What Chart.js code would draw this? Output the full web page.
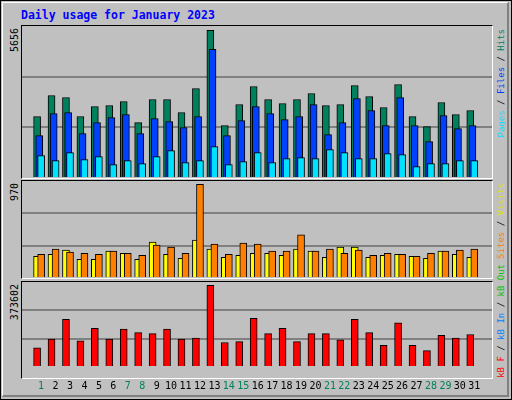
<!DOCTYPE html>
<html><head><meta charset="utf-8">
<script src="https://cdn.jsdelivr.net/npm/chart.js@4/dist/chart.umd.min.js"></script>
<style>
html,body{margin:0;padding:0;background:#fff;}
#outer{position:absolute;left:0;top:0;width:510px;height:398px;border:1px solid #000;background:#c0c0c0;overflow:hidden;}
#hl{position:absolute;left:1px;top:1px;width:504px;height:392px;border-top:1px solid #fff;border-left:1px solid #fff;border-right:2px solid #808080;border-bottom:2px solid #808080;}
.pan{position:absolute;border-top:1px solid #000;border-left:1px solid #000;border-right:1px solid #fff;border-bottom:1px solid #fff;}
canvas{position:absolute;}
.v{position:absolute;writing-mode:vertical-rl;transform:rotate(180deg);font-family:"DejaVu Sans Mono",monospace;font-size:9px;line-height:10px;white-space:nowrap;}
.vl{font-size:10px;}
#title{position:absolute;left:20px;top:7px;color:#0000ff;font:bold 11.5px "DejaVu Sans Mono",monospace;}
</style></head><body>
<div id="outer"><div id="hl"></div>
<div id="title">Daily usage for January 2023</div>
<div class="pan" style="left:20px;top:24px;width:470px;height:152px"></div>
<div class="pan" style="left:20px;top:179px;width:470px;height:97px"></div>
<div class="pan" style="left:20px;top:280px;width:470px;height:96px"></div>
<canvas id="c1" style="left:21px;top:25px;width:470px;height:152px"></canvas>
<canvas id="c2" style="left:21px;top:180px;width:470px;height:97px"></canvas>
<canvas id="c3" style="left:21px;top:281px;width:470px;height:115px"></canvas>
<div class="v vl" style="left:9px;top:27px">5656</div>
<div class="v vl" style="left:9px;top:182px">970</div>
<div class="v vl" style="left:9px;top:283px">373602</div>
<div class="v" style="left:495px;top:28px"><span style="color:#00e0ff">Pages</span> / <span style="color:#0040ff">Files</span> / <span style="color:#00805c">Hits</span></div>
<div class="v" style="left:495px;top:182px"><span style="color:#ff8000">Sites</span> / <span style="color:#e0e000">Visits</span></div>
<div class="v" style="left:495px;top:263px"><span style="color:#ff0000">kB F</span> / <span style="color:#0080ff">kB In</span> / <span style="color:#00c000">kB Out</span></div>
</div>
<script>
const days=[1,2,3,4,5,6,7,8,9,10,11,12,13,14,15,16,17,18,19,20,21,22,23,24,25,26,27,28,29,30,31];
const weekend=[1,7,8,14,15,21,22,28,29];
const hits=[2287,3070,2996,2287,2660,2697,2847,2063,2921,2921,2436,3331,5494,1952,2735,3406,2921,2772,2921,3145,2697,2735,3443,3033,2623,3480,2287,1914,2809,2362,2511];
const files=[1579,2399,2436,1653,2063,2250,2362,1653,2213,2101,1877,2287,4786,1579,2138,2660,2399,2175,2287,2735,1616,2063,2958,2511,1952,2996,1952,1355,2324,1840,1952];
const pages=[833,646,945,684,796,497,646,534,796,1019,572,646,1168,497,609,945,572,721,758,721,1057,945,721,721,907,870,423,534,534,646,646];
const visits=[217,237,278,186,186,268,247,186,359,237,197,380,288,207,227,247,247,227,288,268,207,308,308,207,227,237,217,197,268,237,207];
const sites=[237,288,258,247,237,268,247,227,329,308,247,936,339,237,349,339,268,268,431,268,288,247,278,227,247,237,217,247,268,278,288];
const kbytes=[83900,123200,209800,115400,170400,123200,166500,150800,146800,166500,123200,127200,359200,107500,111400,213700,146800,170400,111400,146800,146800,119300,209800,150800,95700,194000,95700,72100,139000,127200,142900];
const maxes=[5656,970,373602];

function ds(vals,off,color){return{data:vals.map((v,i)=>({x:days[i]+off,y:v})),backgroundColor:color,borderColor:'#000',borderWidth:1,barThickness:7,grouped:false};}
function mk(id,sets,max,showX){
  new Chart(document.getElementById(id),{type:'bar',data:{datasets:sets},
  options:{responsive:false,animation:false,devicePixelRatio:1,
   plugins:{legend:{display:false},tooltip:{enabled:false}},
   layout:{padding:0},
   scales:{
    x:{type:'linear',min:0.2,max:31.7,display:showX,grid:{display:false},border:{display:false},
       afterBuildTicks:s=>{s.ticks=days.map(d=>({value:d}));},
       ticks:{padding:5,autoSkip:false,maxRotation:0,font:{family:'DejaVu Sans Mono',size:10},
         color:c=>weekend.includes(c.tick.value)?'#00805c':'#000',callback:v=>String(v)}},
    y:{min:0,max:max,afterBuildTicks:s=>{s.ticks=[0,max/3,2*max/3,max].map(v=>({value:v}));},
       afterFit:s=>{s.width=0;},ticks:{display:false},border:{display:false},
       grid:{color:c=>(c.tick.value>0&&c.tick.value<max)?'#808080':'rgba(0,0,0,0)',lineWidth:2,drawTicks:false}}
   }}});
}
mk('c1',[ds(pages,0,'#00e0ff'),ds(files,-0.13,'#0040ff'),ds(hits,-0.28,'#00805c')],maxes[0],false);
mk('c2',[ds(sites,0,'#ff8000'),ds(visits,-0.28,'#ffff00')],maxes[1],false);
mk('c3',[ds(kbytes,-0.28,'#ff0000')],maxes[2],true);
</script>
</body></html>
